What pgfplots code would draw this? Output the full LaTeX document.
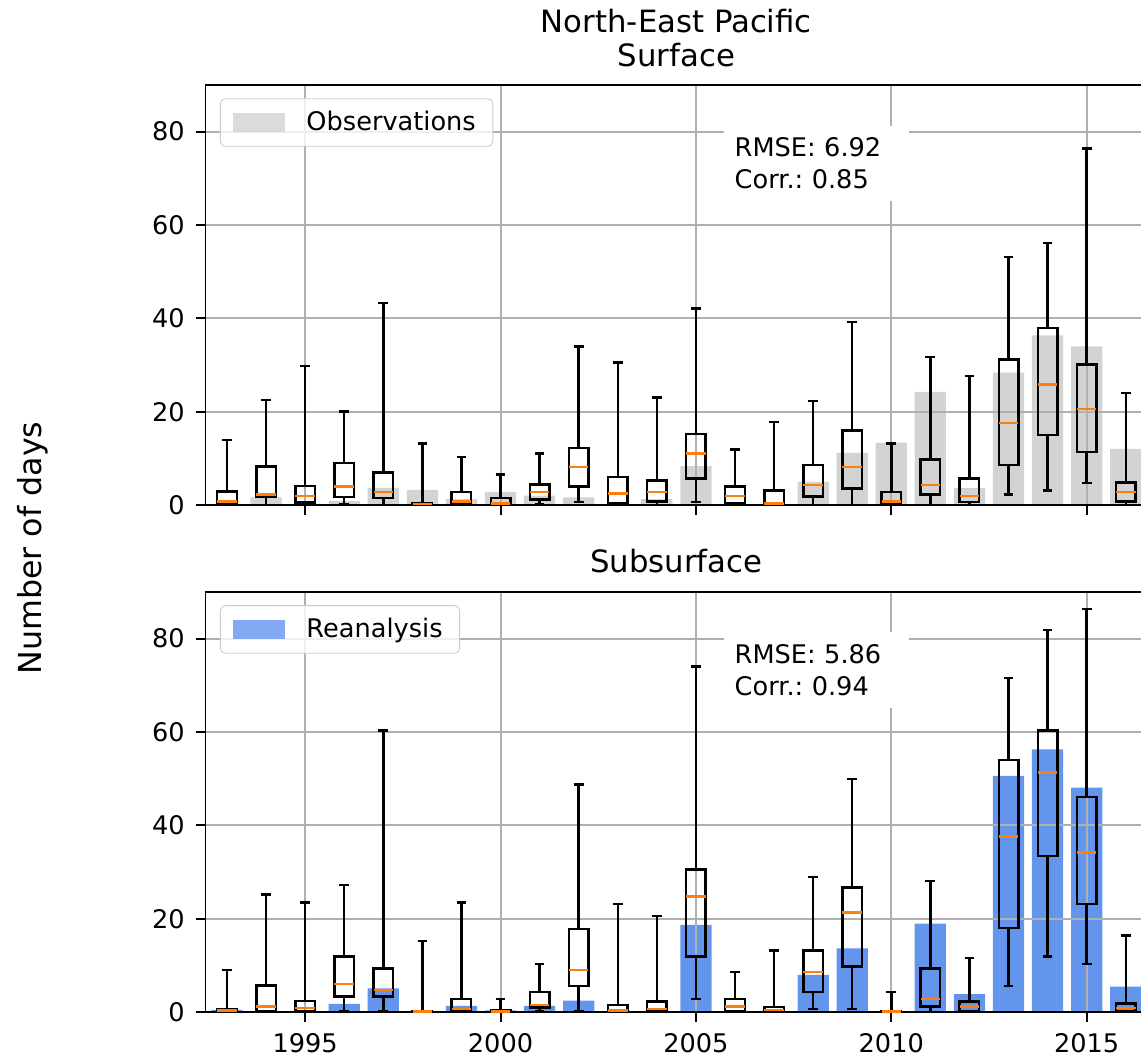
\documentclass[border=0pt]{standalone}
\usepackage{fontspec}
\setmainfont{DejaVu Sans}
\usepackage{pgfplots}
\usepackage{pgfplotstable}
\pgfplotsset{compat=1.18}
\usepgfplotslibrary{statistics}
\frenchspacing

\definecolor{mplorange}{HTML}{FF7F0E}
\definecolor{obsgrey}{HTML}{D3D3D3}
\definecolor{reablue}{HTML}{6495ED}
\definecolor{gridgrey}{HTML}{B0B0B0}
\definecolor{legendedge}{HTML}{CCCCCC}

% bars: observations (surface panel) and reanalysis (subsurface panel); idx = year - 1993
\pgfplotstableread{
idx year obs rea
0 1993 0.0 0.5
1 1994 1.7 0.0
2 1995 0.0 0.2
3 1996 0.9 1.8
4 1997 3.7 5.1
5 1998 3.3 0.2
6 1999 1.3 1.4
7 2000 2.9 0.4
8 2001 2.1 1.4
9 2002 1.7 2.5
10 2003 0.2 0.0
11 2004 1.3 0.0
12 2005 8.4 18.7
13 2006 0.2 0.0
14 2007 0.0 0.0
15 2008 5.0 8.0
16 2009 11.2 13.7
17 2010 13.4 0.2
18 2011 24.3 19.0
19 2012 3.7 3.9
20 2013 28.4 50.6
21 2014 36.4 56.3
22 2015 34.0 48.1
23 2016 12.1 5.5
}\bars

% box: index (year-1993), lower whisker, q1, median, q3, upper whisker
\newcommand{\bx}[6]{\addplot[black, line width=1pt, boxplot/draw direction=y, boxplot prepared={draw position=#1, lower whisker=#2, lower quartile=#3, median=#4, upper quartile=#5, upper whisker=#6}] coordinates {};}

\pgfplotsset{
  panel/.style={
    set layers,
    scale only axis, width=386.1pt, height=172.4pt,
    xmin=-0.55, xmax=23.55, ymin=0, ymax=90,
    xtick={2,7,12,17,22}, ytick={0,20,40,60,80},
    tick pos=left, tick align=outside, major tick length=4pt,
    every tick/.style={black, line width=0.8pt},
    axis line style={line width=0.8pt, black},
    grid=major, major grid style={gridgrey, line width=0.8pt},
    /pgf/number format/assume math mode=true,
    tick label style={font=\fontsize{10.5}{12.6}\selectfont},
    yticklabel style={xshift=-1pt}, xticklabel style={yshift=-1pt},
    boxplot/draw direction=y,
    boxplot/box extend=0.5, boxplot/whisker extend=0.25,
    boxplot/every box/.style={draw=black, line width=1pt},
    boxplot/every whisker/.style={draw=black, line width=1pt},
    boxplot/every median/.style={draw=mplorange, line width=1pt},
    legend style={at={(0,1)}, anchor=north west, xshift=5.9pt, yshift=-5.5pt,
      draw=legendedge, rounded corners=2pt, fill=white, fill opacity=0.8, text opacity=1,
      font=\fontsize{10.5}{12.6}\selectfont, inner xsep=5pt, inner ysep=3pt, column sep=7pt},
  },
}

\begin{document}
\begin{tikzpicture}
% ---------------- Surface ----------------
\begin{axis}[panel, at={(84.26pt,226.6pt)}, anchor=south west, xticklabels={,,}]
\addplot[ybar, bar width=0.8, bar shift=0pt, fill=obsgrey, draw=none, on layer=axis background,
  legend image code/.code={\fill[obsgrey, sharp corners] (0pt,-3.9pt) rectangle (21.3pt,3.9pt);}]
  table[x=idx, y=obs]{\bars};
\addlegendentry{Observations}
\bx{0}{0}{0.4}{0.86}{3.0}{14.0}
\bx{1}{0}{1.8}{2.35}{8.3}{22.6}
\bx{2}{0}{0.6}{2.0}{4.1}{29.8}
\bx{3}{0.3}{1.8}{4.0}{9.0}{20.1}
\bx{4}{0}{1.6}{2.8}{7.0}{43.3}
\bx{5}{0}{0}{0.3}{0.4}{13.2}
\bx{6}{0}{0.3}{0.8}{2.9}{10.3}
\bx{7}{0}{0.1}{0.4}{1.6}{6.6}
\bx{8}{0.3}{1.2}{2.8}{4.5}{11.1}
\bx{9}{0.7}{4.0}{8.2}{12.3}{34.0}
\bx{10}{0}{0.5}{2.5}{6.1}{30.6}
\bx{11}{0}{0.8}{2.8}{5.3}{23.1}
\bx{12}{0.7}{5.7}{11.1}{15.3}{42.1}
\bx{13}{0}{0.4}{2.0}{4.0}{11.9}
\bx{14}{0}{0.2}{0.4}{3.2}{17.8}
\bx{15}{0}{1.9}{4.4}{8.6}{22.3}
\bx{16}{0}{3.6}{8.2}{16.0}{39.2}
\bx{17}{0}{0.5}{0.8}{2.8}{13.2}
\bx{18}{0}{2.3}{4.4}{9.8}{31.8}
\bx{19}{0}{0.7}{2.0}{5.7}{27.7}
\bx{20}{2.3}{8.6}{17.6}{31.2}{53.2}
\bx{21}{3.2}{15.0}{25.9}{37.9}{56.1}
\bx{22}{4.8}{11.4}{20.6}{30.1}{76.4}
\bx{23}{0}{0.8}{2.8}{4.9}{24.0}
\node[anchor=north west, fill=white, inner xsep=4.5pt, inner ysep=5pt, text width=67pt, align=left,
  font=\fontsize{10.5}{13}\selectfont] at (axis cs:12.7,81.4) {RMSE: 6.92\\Corr.: 0.85};
\end{axis}
% ---------------- Subsurface ----------------
\begin{axis}[panel, at={(84.26pt,18.74pt)}, anchor=south west,
  xticklabels={1995,2000,2005,2010,2015}]
\addplot[ybar, bar width=0.8, bar shift=0pt, fill=reablue, draw=none, on layer=axis background,
  legend image code/.code={\fill[reablue, sharp corners] (0pt,-3.9pt) rectangle (21.3pt,3.9pt);}]
  table[x=idx, y=rea]{\bars};
\addlegendentry{Reanalysis}
\bx{0}{0}{0.1}{0.35}{0.7}{9.1}
\bx{1}{0}{0.3}{1.2}{5.7}{25.2}
\bx{2}{0}{0.2}{0.9}{2.4}{23.5}
\bx{3}{0.2}{3.4}{6.1}{11.9}{27.2}
\bx{4}{0.2}{3.4}{4.8}{9.4}{60.3}
\bx{5}{0}{0}{0.2}{0.2}{15.3}
\bx{6}{0}{0.3}{0.7}{2.8}{23.5}
\bx{7}{0}{0}{0.2}{0.4}{2.8}
\bx{8}{0.2}{1.0}{1.6}{4.4}{10.3}
\bx{9}{0.2}{5.6}{9.1}{17.8}{48.8}
\bx{10}{0}{0.1}{0.4}{1.6}{23.2}
\bx{11}{0}{0.2}{0.7}{2.3}{20.6}
\bx{12}{2.8}{11.9}{24.8}{30.6}{74.0}
\bx{13}{0}{0.3}{1.2}{2.8}{8.6}
\bx{14}{0}{0.1}{0.5}{1.1}{13.2}
\bx{15}{0.7}{4.4}{8.6}{13.2}{29.0}
\bx{16}{0.7}{9.8}{21.4}{26.7}{49.9}
\bx{17}{0}{0}{0.2}{0.3}{4.4}
\bx{18}{0}{1.2}{2.8}{9.4}{28.1}
\bx{19}{0}{0.3}{1.2}{2.3}{11.6}
\bx{20}{5.6}{18.1}{37.6}{54.0}{71.5}
\bx{21}{11.9}{33.5}{51.3}{60.3}{81.8}
\bx{22}{10.3}{23.2}{34.2}{46.1}{86.3}
\bx{23}{0}{0.3}{0.9}{1.9}{16.4}
\node[anchor=north west, fill=white, inner xsep=4.5pt, inner ysep=5pt, text width=67pt, align=left,
  font=\fontsize{10.5}{13}\selectfont] at (axis cs:12.7,81.4) {RMSE: 5.86\\Corr.: 0.94};
\end{axis}
% ---------------- titles and common label ----------------
\node[anchor=base, font=\fontsize{12.6}{15}\selectfont] at (277.3pt,420.25pt) {North-East Pacific};
\node[anchor=base, font=\fontsize{12.6}{15}\selectfont] at (277.3pt,406.4pt) {Surface};
\node[anchor=base, font=\fontsize{12.6}{15}\selectfont] at (277.3pt,198.9pt) {Subsurface};
\node[anchor=base, rotate=90, font=\fontsize{13}{15}\selectfont] at (17.2pt,209.1pt) {Number of days};
\pgfresetboundingbox
\useasboundingbox (0pt,0pt) rectangle (467.81pt,433.78pt);
\end{tikzpicture}
\end{document}
